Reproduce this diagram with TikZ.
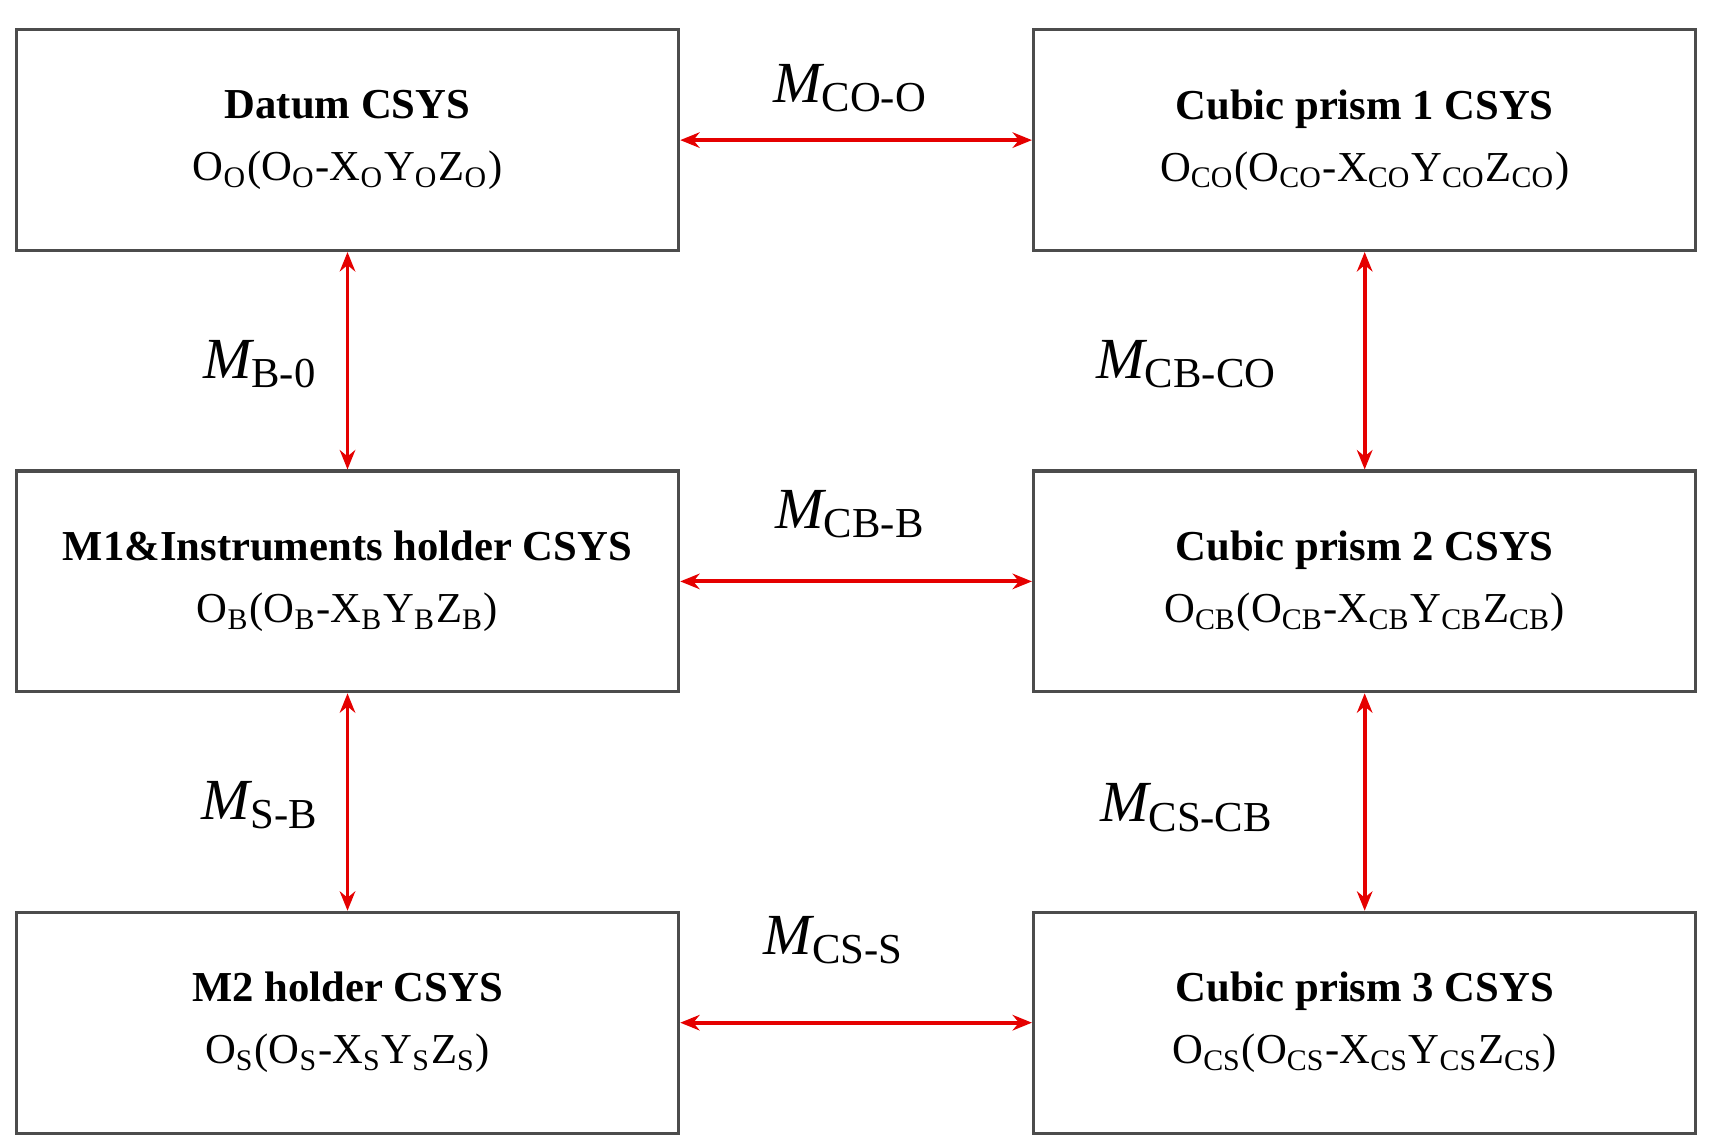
\documentclass[tikz,border=0pt]{standalone}
\usepackage{fontspec}
\setmainfont{Liberation Serif}
\usetikzlibrary{arrows.meta}
\newcommand{\sub}[1]{\textsubscript{#1}}
\newcommand{\mlab}[1]{$\mathit{M}$\raisebox{-0.35ex}{\fontsize{11}{11}\selectfont #1}}
\begin{document}
\begin{tikzpicture}[x=0.01cm,y=-0.01cm,
  csys/.style={draw=black!70, line width=0.8pt, minimum width=6cm, minimum height=2cm, align=center, font=\fontsize{11}{16}\selectfont},
  link/.style={draw=red!90!black, line width=1pt, {Stealth[length=5pt,width=4pt]}-{Stealth[length=5pt,width=4pt]}},
  mtext/.style={font=\fontsize{15}{15}\selectfont}]

\path [use as bounding box] (0,0) rectangle (1550,1039);

% BOXES
\node [csys] (datum) at (315,127) {\textbf{Datum CSYS}\\O\sub{O}(O\sub{O}-X\sub{O}Y\sub{O}Z\sub{O})};
\node [csys] (prism1) at (1237,127) {\textbf{Cubic prism 1 CSYS}\\O\sub{CO}(O\sub{CO}-X\sub{CO}Y\sub{CO}Z\sub{CO})};
\node [csys] (holder1) at (315,527) {\textbf{M1\&Instruments holder CSYS}\\O\sub{B}(O\sub{B}-X\sub{B}Y\sub{B}Z\sub{B})};
\node [csys] (prism2) at (1237,527) {\textbf{Cubic prism 2 CSYS}\\O\sub{CB}(O\sub{CB}-X\sub{CB}Y\sub{CB}Z\sub{CB})};
\node [csys] (holder2) at (315,927) {\textbf{M2 holder CSYS}\\O\sub{S}(O\sub{S}-X\sub{S}Y\sub{S}Z\sub{S})};
\node [csys] (prism3) at (1237,927) {\textbf{Cubic prism 3 CSYS}\\O\sub{CS}(O\sub{CS}-X\sub{CS}Y\sub{CS}Z\sub{CS})};

% LINKS
\draw [link] (datum) -- (prism1);
\draw [link] (holder1) -- (prism2);
\draw [link] (holder2) -- (prism3);
\draw [link] (datum) -- (holder1);
\draw [link] (holder1) -- (holder2);
\draw [link] (prism1) -- (prism2);
\draw [link] (prism2) -- (prism3);

% LABELS
\node [mtext] (mcoo) at (770,80) {\mlab{CO-O}};
\node [mtext] (mcbb) at (770,466) {\mlab{CB-B}};
\node [mtext] (mcss) at (755,852) {\mlab{CS-S}};
\node [mtext] (mbo) at (235,330) {\mlab{B-0}};
\node [mtext] (msb) at (235,730) {\mlab{S-B}};
\node [mtext] (mcbco) at (1075,330) {\mlab{CB-CO}};
\node [mtext] (mcscb) at (1075,732) {\mlab{CS-CB}};

\end{tikzpicture}
\end{document}
